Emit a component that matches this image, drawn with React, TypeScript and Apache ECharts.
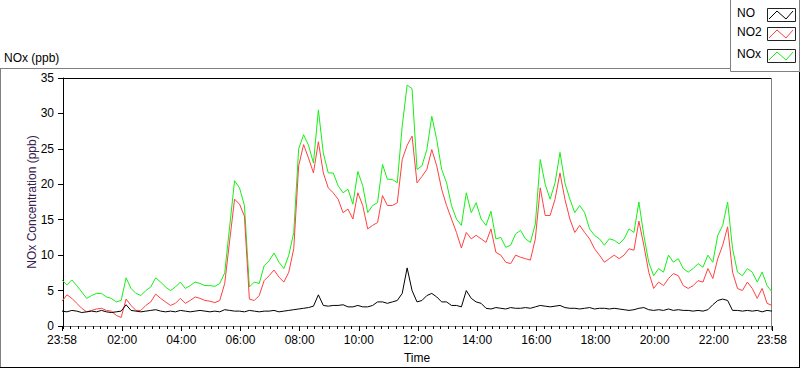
import React, { useEffect, useRef } from "react";
import * as echarts from "echarts";

// Sampling: first sample at 23:58 (-2 min from midnight), every 10 minutes, 145 samples
const START_MIN = -2;
const STEP_MIN = 10;

const noxValues = [
  6.5, 5.8, 6.5, 5.7, 4.8, 3.9, 4.3, 4.6, 4.6, 4.1,
  3.9, 3.4, 3.6, 6.8, 5.3, 4.6, 4.3, 5.0, 5.5, 6.8,
  6.2, 5.5, 5.0, 5.5, 6.2, 5.3, 5.7, 6.2, 6.0, 5.7,
  5.7, 5.6, 6.0, 7.5, 14.0, 20.5, 19.5, 17.0, 5.5, 6.2,
  6.0, 8.5, 9.2, 10.3, 9.0, 8.1, 10.0, 13.2, 25.0, 27.0,
  25.5, 23.0, 30.5, 24.4, 21.6, 21.6, 19.8, 18.8, 19.3, 17.2,
  21.8, 19.8, 16.0, 17.0, 17.4, 22.8, 20.7, 20.7, 20.2, 28.2,
  34.0, 33.5, 22.1, 22.6, 24.9, 29.6, 26.3, 22.1, 20.2, 17.0,
  15.1, 14.2, 18.8, 16.0, 17.4, 15.1, 14.2, 16.2, 12.3, 12.5,
  11.1, 11.4, 13.0, 13.5, 12.3, 11.8, 14.4, 23.5, 20.0, 17.9,
  20.2, 24.5, 20.2, 17.9, 16.0, 17.0, 16.0, 13.7, 12.8, 12.3,
  11.4, 12.3, 12.1, 11.6, 12.3, 13.7, 13.2, 17.5, 12.8, 9.0,
  7.1, 8.1, 7.6, 10.0, 9.0, 9.5, 8.1, 7.6, 8.1, 8.8,
  8.3, 10.0, 9.0, 12.8, 14.2, 17.5, 10.9, 7.6, 7.1, 8.1,
  7.6, 6.2, 7.6, 5.7, 4.8,
];

const no2Values = [
  3.5, 4.4, 3.9, 3.2, 2.5, 2.0, 2.2, 2.4, 2.5, 2.2,
  2.1, 1.5, 1.2, 3.8, 2.9, 2.2, 2.2, 2.9, 3.4, 4.5,
  3.9, 3.4, 2.9, 3.2, 3.9, 3.2, 3.6, 4.1, 3.9, 3.6,
  3.5, 3.3, 3.6, 6.0, 12.0, 17.9, 17.2, 15.5, 3.8, 3.6,
  4.3, 6.4, 7.1, 7.9, 6.9, 6.2, 7.6, 10.9, 22.6, 25.6,
  23.7, 21.6, 26.0, 21.6, 19.5, 18.8, 17.9, 16.0, 16.5, 15.1,
  18.8, 17.0, 13.7, 14.2, 14.6, 18.4, 17.0, 17.0, 17.4, 23.5,
  25.5, 26.8, 20.2, 21.1, 22.1, 24.9, 22.6, 19.3, 17.0, 15.1,
  13.2, 11.0, 13.2, 12.3, 12.8, 12.3, 11.8, 13.7, 10.4, 10.0,
  9.0, 8.8, 10.0, 9.7, 9.5, 9.3, 12.3, 19.5, 15.6, 15.6,
  17.9, 21.6, 17.9, 15.1, 13.2, 14.2, 13.2, 12.3, 10.9, 10.0,
  9.0, 9.5, 10.0, 9.5, 10.0, 10.9, 10.7, 14.8, 11.4, 7.6,
  5.3, 6.2, 5.7, 6.7, 7.4, 7.1, 5.7, 5.3, 5.7, 6.4,
  6.2, 8.1, 6.7, 9.5, 11.4, 14.0, 7.6, 5.3, 5.0, 6.2,
  5.3, 3.9, 5.3, 3.2, 2.9,
];

const noValues = [
  2.1, 2.0, 2.2, 2.1, 1.9, 2.0, 2.1, 2.0, 2.2, 2.0,
  1.9, 2.0, 2.1, 3.0, 2.2, 2.1, 2.0, 2.1, 2.2, 2.3,
  2.1, 2.0, 2.1, 2.0, 2.2, 2.1, 2.0, 2.1, 2.2, 2.1,
  2.0, 2.1, 2.0, 2.3, 2.2, 2.1, 2.1, 2.0, 2.2, 2.1,
  2.0, 2.1, 2.1, 2.2, 2.0, 2.1, 2.2, 2.3, 2.4, 2.5,
  2.6, 2.8, 4.4, 2.9, 2.8, 2.9, 2.9, 3.0, 2.7, 2.7,
  2.9, 2.7, 2.7, 2.9, 3.4, 3.4, 3.2, 3.4, 3.6, 4.6,
  8.2, 5.0, 3.4, 3.6, 4.3, 4.6, 4.1, 3.4, 3.4, 2.9,
  2.9, 2.7, 5.0, 3.9, 3.4, 3.2, 2.5, 2.4, 2.6, 2.5,
  2.4, 2.6, 2.5, 2.5, 2.6, 2.5, 2.7, 2.9, 2.8, 2.7,
  2.8, 2.9, 2.6, 2.5, 2.5, 2.4, 2.5, 2.6, 2.4, 2.5,
  2.5, 2.4, 2.5, 2.4, 2.3, 2.2, 2.3, 2.5, 2.6, 2.3,
  2.2, 2.3, 2.2, 2.4, 2.2, 2.3, 2.2, 2.2, 2.1, 2.2,
  2.1, 2.3, 3.0, 3.6, 3.8, 3.6, 2.2, 2.2, 2.1, 2.2,
  2.1, 2.2, 2.0, 2.2, 2.1,
];

// Axis ticks (minutes from midnight)
const majorTicks = [-2, 120, 240, 360, 480, 600, 720, 840, 960, 1080, 1200, 1320, 1438];
const minorTicks = [
  0, 15, 30, 45, 60, 75, 90, 105, 135, 150, 165, 180, 195, 210, 225,
  255, 270, 285, 300, 315, 330, 345, 375, 390, 405, 420, 435, 450, 465,
  495, 510, 525, 540, 555, 570, 585, 615, 630, 645, 660, 675, 690, 705,
  735, 750, 765, 780, 795, 810, 825, 855, 870, 885, 900, 915, 930, 945,
  975, 990, 1005, 1020, 1035, 1050, 1065, 1095, 1110, 1125, 1140, 1155, 1170, 1185,
  1215, 1230, 1245, 1260, 1275, 1290, 1305, 1335, 1350, 1365, 1380, 1395, 1410, 1425,
];

const seriesNames = ["NO", "NO2", "NOx"];
const FONT = "Liberation Sans";

function fmtTime(v: number): string {
  let m = Math.round(v);
  if (m < 0) m += 1440;
  if (m >= 1440) m -= 1440;
  const h = Math.floor(m / 60);
  const mm = m % 60;
  return String(h).padStart(2, "0") + ":" + String(mm).padStart(2, "0");
}

function toPairs(vals: number[]): [number, number][] {
  return vals.map((v, i) => [START_MIN + i * STEP_MIN, v]);
}

export default function App() {
  const ref = useRef<HTMLDivElement>(null);
  useEffect(() => {
    if (!ref.current) return;
    const chart = echarts.init(ref.current, undefined, { renderer: "svg" });
    const grey = "#808080";
    const legendRows = [
      { name: seriesNames[0], color: "#000000", y: 9 },
      { name: seriesNames[1], color: "#ff4040", y: 28 },
      { name: seriesNames[2], color: "#14f014", y: 50 },
    ];
    chart.setOption({
      animation: false,
      backgroundColor: "#ffffff",
      textStyle: { fontFamily: FONT },
      grid: { left: 62, right: 28, top: 78, bottom: 39, containLabel: false },
      xAxis: {
        type: "value",
        min: -2,
        max: 1438,
        name: "Time",
        nameLocation: "middle",
        nameGap: 26,
        nameMoveOverlap: false,
        nameTextStyle: { color: "#000", fontSize: 12, fontFamily: FONT },
        axisLine: { show: true, lineStyle: { color: grey, width: 1 } },
        axisTick: { show: true, customValues: majorTicks, length: 5, lineStyle: { color: "#000" } },
        axisLabel: {
          show: true,
          customValues: majorTicks,
          formatter: (v: number) => fmtTime(v),
          color: "#000",
          fontSize: 12,
          margin: 8,
          hideOverlap: false,
          showMinLabel: true,
          showMaxLabel: true,
        },
        splitLine: { show: false },
      },
      yAxis: {
        type: "value",
        min: 0,
        max: 35,
        interval: 5,
        name: "NOx Concentration (ppb)",
        nameLocation: "middle",
        nameGap: 24,
        nameMoveOverlap: false,
        nameTextStyle: { color: "#35204f", fontSize: 12, fontFamily: FONT },
        axisLine: { show: true, lineStyle: { color: "#000", width: 1 } },
        axisTick: { show: true, length: 5, lineStyle: { color: "#000" } },
        axisLabel: { color: "#000", fontSize: 12, margin: 8 },
        splitLine: { show: false },
      },
      series: [
        {
          name: seriesNames[2],
          type: "line",
          data: toPairs(noxValues),
          showSymbol: false,
          lineStyle: { color: "#14f014", width: 1 },
          itemStyle: { color: "#14f014" },
          z: 2,
        },
        {
          name: seriesNames[1],
          type: "line",
          data: toPairs(no2Values),
          showSymbol: false,
          lineStyle: { color: "#ff4040", width: 1 },
          itemStyle: { color: "#ff4040" },
          z: 3,
        },
        {
          name: seriesNames[0],
          type: "line",
          data: toPairs(noValues),
          showSymbol: false,
          lineStyle: { color: "#000000", width: 1 },
          itemStyle: { color: "#000000" },
          z: 4,
        },
        {
          name: "minorTicks",
          type: "custom",
          clip: false,
          silent: true,
          data: minorTicks.map((v) => [v, 0]),
          renderItem: (params: any, api: any) => {
            const p = api.coord([api.value(0), 0]);
            const x = Math.round(p[0]) + 0.5;
            const y = Math.round(p[1]);
            return {
              type: "line",
              shape: { x1: x, y1: y, x2: x, y2: y + 3 },
              style: { stroke: "#000", lineWidth: 1 },
            };
          },
          z: 5,
        },
      ],
      graphic: [
        // outer panel frame
        { type: "line", shape: { x1: 0, y1: 68.5, x2: 730, y2: 68.5 }, style: { stroke: grey, lineWidth: 1 } },
        { type: "line", shape: { x1: 0.5, y1: 68.5, x2: 0.5, y2: 368 }, style: { stroke: grey, lineWidth: 1 } },
        { type: "line", shape: { x1: 0, y1: 367.5, x2: 800, y2: 367.5 }, style: { stroke: "#000", lineWidth: 1 } },
        { type: "line", shape: { x1: 799.5, y1: 72, x2: 799.5, y2: 368 }, style: { stroke: "#000", lineWidth: 1 } },
        // plot frame top/right
        { type: "line", shape: { x1: 62, y1: 78.5, x2: 772, y2: 78.5 }, style: { stroke: "#000", lineWidth: 1 } },
        { type: "line", shape: { x1: 771.5, y1: 78, x2: 771.5, y2: 330 }, style: { stroke: grey, lineWidth: 1 } },
        // panel title
        {
          type: "text",
          x: 4,
          y: 58,
          style: { text: "NOx (ppb)", font: `12px "${FONT}"`, fill: "#000", verticalAlign: "middle" },
        },
        // legend box
        { type: "rect", shape: { x: 730.5, y: -0.5, width: 69, height: 72 }, style: { fill: "none", stroke: grey, lineWidth: 1 } },
        ...legendRows.map((r) => ({
          type: "text",
          x: 737,
          y: r.y + 4,
          style: { text: r.name, font: `12px "${FONT}"`, fill: "#000", verticalAlign: "middle" },
        })),
        ...legendRows.map((r) => ({
          type: "rect",
          shape: { x: 767.5, y: r.y - 0.5, width: 28, height: 13 },
          style: { fill: "#fff", stroke: "#222", lineWidth: 1 },
        })),
        ...legendRows.map((r) => ({
          type: "polyline",
          shape: { points: [[769, r.y + 10], [777, r.y + 2], [786, r.y + 10], [793, r.y + 2]] },
          style: { stroke: r.color, lineWidth: 1, fill: "none" },
        })),
      ],
    });
    return () => chart.dispose();
  }, []);
  return <div ref={ref} style={{ position: "fixed", left: 0, top: 0, width: 800, height: 369 }} />;
}
